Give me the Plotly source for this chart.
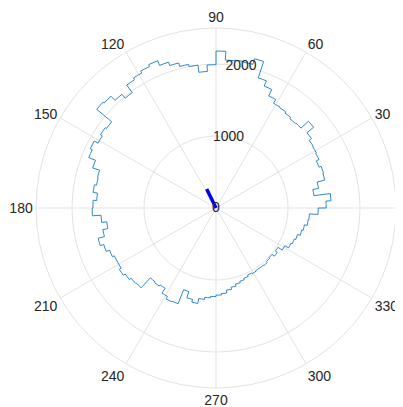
import plotly.graph_objects as go

# polar histogram (stairs), 100 bins of 3.6 degrees, counts
bin_width = 3.6
counts = [
    1530, 1600, 1370, 1450, 1560, 1570, 1540, 1580, 1590, 1600,
    1640, 1760, 1620, 1610, 1630, 1650, 1660, 1720, 1820, 1900,
    2140, 2060, 2070, 2060, 2180, 1990, 1900, 2000, 2030, 2080,
    2130, 2200, 2170, 2140, 2110, 1980, 2050, 2130, 2150, 1880,
    1900, 1870, 1930, 1900, 1800, 1700, 1690, 1720, 1660, 1710,
    1720, 1600, 1530, 1600, 1690, 1640, 1590, 1560, 1560, 1590,
    1560, 1530, 1520, 1330, 1340, 1320, 1400, 1440, 1430, 1220,
    1310, 1350, 1280, 1250, 1230, 1210, 1190, 1150, 1120, 1090,
    1070, 1050, 1030, 1040, 1030, 1030, 1040, 1020, 1010, 1050,
    1020, 1090, 1150, 1170, 1190, 1230, 1250, 1290, 1300, 1420,
]

# mean resultant vector
mean_dir = 116
mean_len = 295

r_ticks = [0, 1000, 2000]
r_label_angle = 80
r_max = 2500
theta_ticks = list(range(0, 360, 30))

edges = [i * bin_width for i in range(len(counts) + 1)]

# build the stairs outline
th, rr = [], []
for k, c in enumerate(counts):
    th += [edges[k], edges[k] + bin_width / 2, edges[k + 1]]
    rr += [c, c, c]
th.append(edges[-1])
rr.append(counts[0])

fig = go.Figure()
fig.add_trace(go.Scatterpolar(
    r=rr, theta=th, mode='lines',
    line=dict(color='#2f86d3', width=1),
    showlegend=False, hoverinfo='skip'
))
fig.add_trace(go.Scatterpolar(
    r=[0, mean_len], theta=[mean_dir, mean_dir], mode='lines',
    line=dict(color='#0000ff', width=3.5),
    showlegend=False
))
# radial tick labels, centred on the r-axis like matlab does
fig.add_trace(go.Scatterpolar(
    r=r_ticks, theta=[r_label_angle] * len(r_ticks), mode='text',
    text=[str(t) for t in r_ticks], textposition='middle center',
    textfont=dict(size=14, color='#262626'),
    showlegend=False, hoverinfo='skip'
))

fig.update_layout(
    width=403, height=407,
    margin=dict(l=28, r=15, t=20, b=27),
    paper_bgcolor='white',
    font=dict(family='Liberation Sans, Arial, sans-serif', size=14, color='#262626'),
    polar=dict(
        bgcolor='white',
        angularaxis=dict(
            direction='counterclockwise', rotation=0,
            tickmode='array', tickvals=theta_ticks,
            ticktext=[str(t) for t in theta_ticks],
            showgrid=True, gridcolor='#e3e3e3', gridwidth=1,
            showline=True, linecolor='#e3e3e3', linewidth=1,
            ticks='', tickfont=dict(size=14, color='#262626'),
        ),
        radialaxis=dict(
            range=[0, r_max], angle=r_label_angle,
            tickmode='array', tickvals=r_ticks,
            showgrid=True, gridcolor='#e3e3e3', gridwidth=1,
            showline=False, ticks='', showticklabels=False,
        ),
    ),
)

fig.write_html("out.html")
